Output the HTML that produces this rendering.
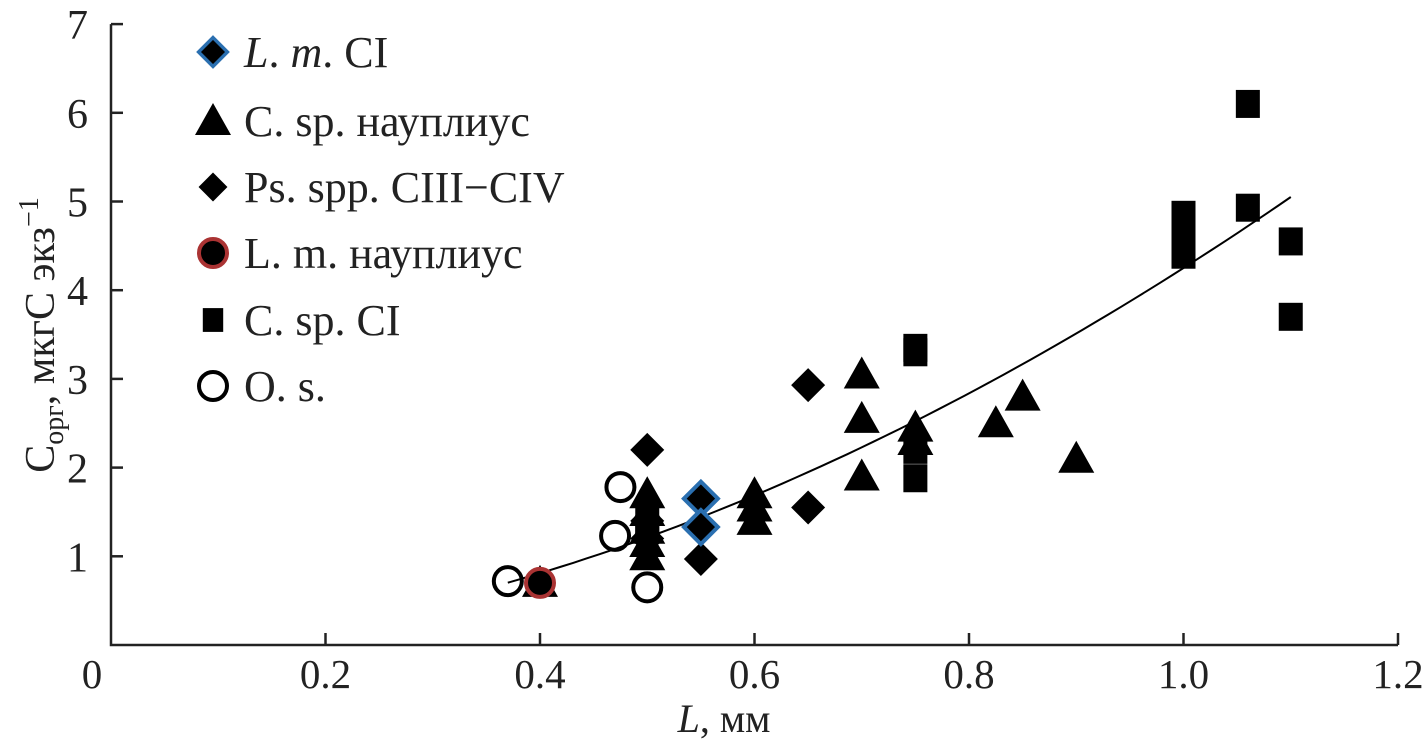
<!DOCTYPE html>
<html><head><meta charset="utf-8"><style>
body{margin:0;background:#fff}
svg text{font-family:"Liberation Serif",serif;fill:#222}
</style></head><body>
<svg id="chart" width="1424" height="748" viewBox="0 0 1424 748" xmlns="http://www.w3.org/2000/svg">
<g id="axes"></g>
<g id="marks"></g>
<g id="legend"></g>
</svg>
<script>
const xTicks=[0,0.2,0.4,0.6,0.8,1.0,1.2];
const xTickLabels=["0","0.2","0.4","0.6","0.8","1.0","1.2"];
const yTicks=[1,2,3,4,5,6,7];
const lmciX=[0.55,0.55];
const lmciY=[1.65,1.33];
const naupX=[0.4,0.5,0.5,0.5,0.5,0.5,0.6,0.6,0.6,0.7,0.7,0.7,0.75,0.75,0.825,0.85,0.9];
const naupY=[0.7,1.7,1.5,1.3,1.15,1.0,1.7,1.55,1.4,3.05,2.55,1.9,2.45,2.3,2.5,2.8,2.1];
const psX=[0.5,0.5,0.5,0.55,0.65,0.65];
const psY=[2.2,1.4,1.2,0.97,2.93,1.55];
const lmnX=[0.4];
const lmnY=[0.7];
const csX=[0.5,0.5,0.75,0.75,0.75,0.75,1.0,1.0,1.0,1.0,1.06,1.06,1.1,1.1];
const csY=[1.4,1.3,3.35,3.3,2.2,1.88,4.85,4.7,4.55,4.4,6.1,4.93,4.55,3.7];
const osX=[0.37,0.47,0.475,0.5];
const osY=[0.72,1.23,1.78,0.65];
const fitA=4.25, fitB=1.81, fitX0=0.37, fitX1=1.1;

const NS="http://www.w3.org/2000/svg";
const X=v=>111+v*(1398-111)/1.2;
const Y=v=>645-v*88.7;
function mk(tag,at,parent){const e=document.createElementNS(NS,tag);for(const k in at)e.setAttribute(k,at[k]);parent.appendChild(e);return e;}
const axes=document.getElementById('axes'),marks=document.getElementById('marks'),legend=document.getElementById('legend');

let a=mk('path',{d:`M111,${Y(7)} V645 H${X(1.2)}`,fill:'none',stroke:'#222','stroke-width':2.5},axes);


yTicks.forEach(v=>{
 let t=mk('line',{x1:111,x2:123,y1:Y(v),y2:Y(v),stroke:'#222','stroke-width':2.5},axes);
 
 
 let l=mk('text',{x:88,y:Y(v)+15,'text-anchor':'end','font-size':42},axes);l.textContent=v;
 
 
});
let z=mk('text',{x:92,y:688,'text-anchor':'middle','font-size':41},axes);z.textContent="0";


xTicks.forEach((v,i)=>{
 if(i>0){let t=mk('line',{x1:X(v),x2:X(v),y1:645,y2:633,stroke:'#222','stroke-width':2.5},axes);
 
 
 let l=mk('text',{x:X(v),y:688,'text-anchor':'middle','font-size':41},axes);l.textContent=xTickLabels[i];
 
 }
});
let xt=mk('text',{x:724,y:732,'text-anchor':'middle','font-size':40},axes);
xt.innerHTML='<tspan font-style="italic">L</tspan>, мм';


let yt=mk('text',{x:0,y:0,'text-anchor':'middle','font-size':42,transform:'translate(54,335) rotate(-90)'},axes);
yt.innerHTML='C<tspan font-size="28" dy="9">орг</tspan><tspan dy="-9">, мкгС экз</tspan><tspan font-size="28" dy="-16">−1</tspan>';



let d='';for(let i=0;i<=60;i++){const x=fitX0+(fitX1-fitX0)*i/60;d+=(i?'L':'M')+X(x).toFixed(1)+','+Y(fitA*Math.pow(x,fitB)).toFixed(1);}
let fc=mk('path',{d,fill:'none',stroke:'#000','stroke-width':2},marks);



function tri(cx,cy,p){return mk('path',{d:`M${cx},${cy-18} L${cx+18},${cy+14} L${cx-18},${cy+14}Z`,fill:'#000'},p);}
function dia(cx,cy,p,st){return mk('path',{d:`M${cx},${cy-17} L${cx+17},${cy} L${cx},${cy+17} L${cx-17},${cy}Z`,fill:'#000',stroke:st||'none','stroke-width':4},p);}
function sq(cx,cy,p){return mk('rect',{x:cx-12,y:cy-14,width:24,height:28,fill:'#000'},p);}
function circ(cx,cy,p,fill,st){return mk('circle',{cx,cy,r:14,fill,stroke:st,'stroke-width':4},p);}

naupX.forEach((x,i)=>{let e=tri(X(x),Y(naupY[i]),marks);
 
 });
csX.forEach((x,i)=>{let e=sq(X(x),Y(csY[i]),marks);
 
 });
psX.forEach((x,i)=>{let e=dia(X(x),Y(psY[i]),marks);
 
 });
lmciX.forEach((x,i)=>{let e=dia(X(x),Y(lmciY[i]),marks,'#2a6fb0');
 
 });
lmnX.forEach((x,i)=>{let e=circ(X(x),Y(lmnY[i]),marks,'#000','#a33');
 
 });
osX.forEach((x,i)=>{let e=circ(X(x),Y(osY[i]),marks,'none','#000');
 
 });

const legY=[52,121,187,253,320,386];
const legNames=['legend-lm-ci','legend-c-sp-nauplius','legend-ps-spp','legend-lm-nauplius','legend-c-sp-ci','legend-o-s'];
const legText=['<tspan font-style="italic">L</tspan>. <tspan font-style="italic">m</tspan>. CI','C. sp. науплиус','Ps. spp. CIII−CIV','L. m. науплиус','C. sp. CI','O. s.'];
legY.forEach((y,i)=>{
 const g=mk('g',{},legend);
 
 
 const cx=213;
 if(i==0)dia(cx,y,g,'#2a6fb0').setAttribute('transform',`translate(${cx},${y}) scale(0.85) translate(${-cx},${-y})`);
 if(i==1)tri(cx,y,g);
 if(i==2)dia(cx,y,g).setAttribute('transform',`translate(${cx},${y}) scale(0.85) translate(${-cx},${-y})`);
 if(i==3)circ(cx,y,g,'#000','#a33');
 if(i==4)sq(cx,y,g).setAttribute('transform',`translate(${cx},${y}) scale(0.85) translate(${-cx},${-y})`);
 if(i==5)circ(cx,y,g,'none','#000');
 const t=mk('text',{x:244,y:y+15,'font-size':44},g);t.innerHTML=legText[i];
});
</script>
</body></html>
